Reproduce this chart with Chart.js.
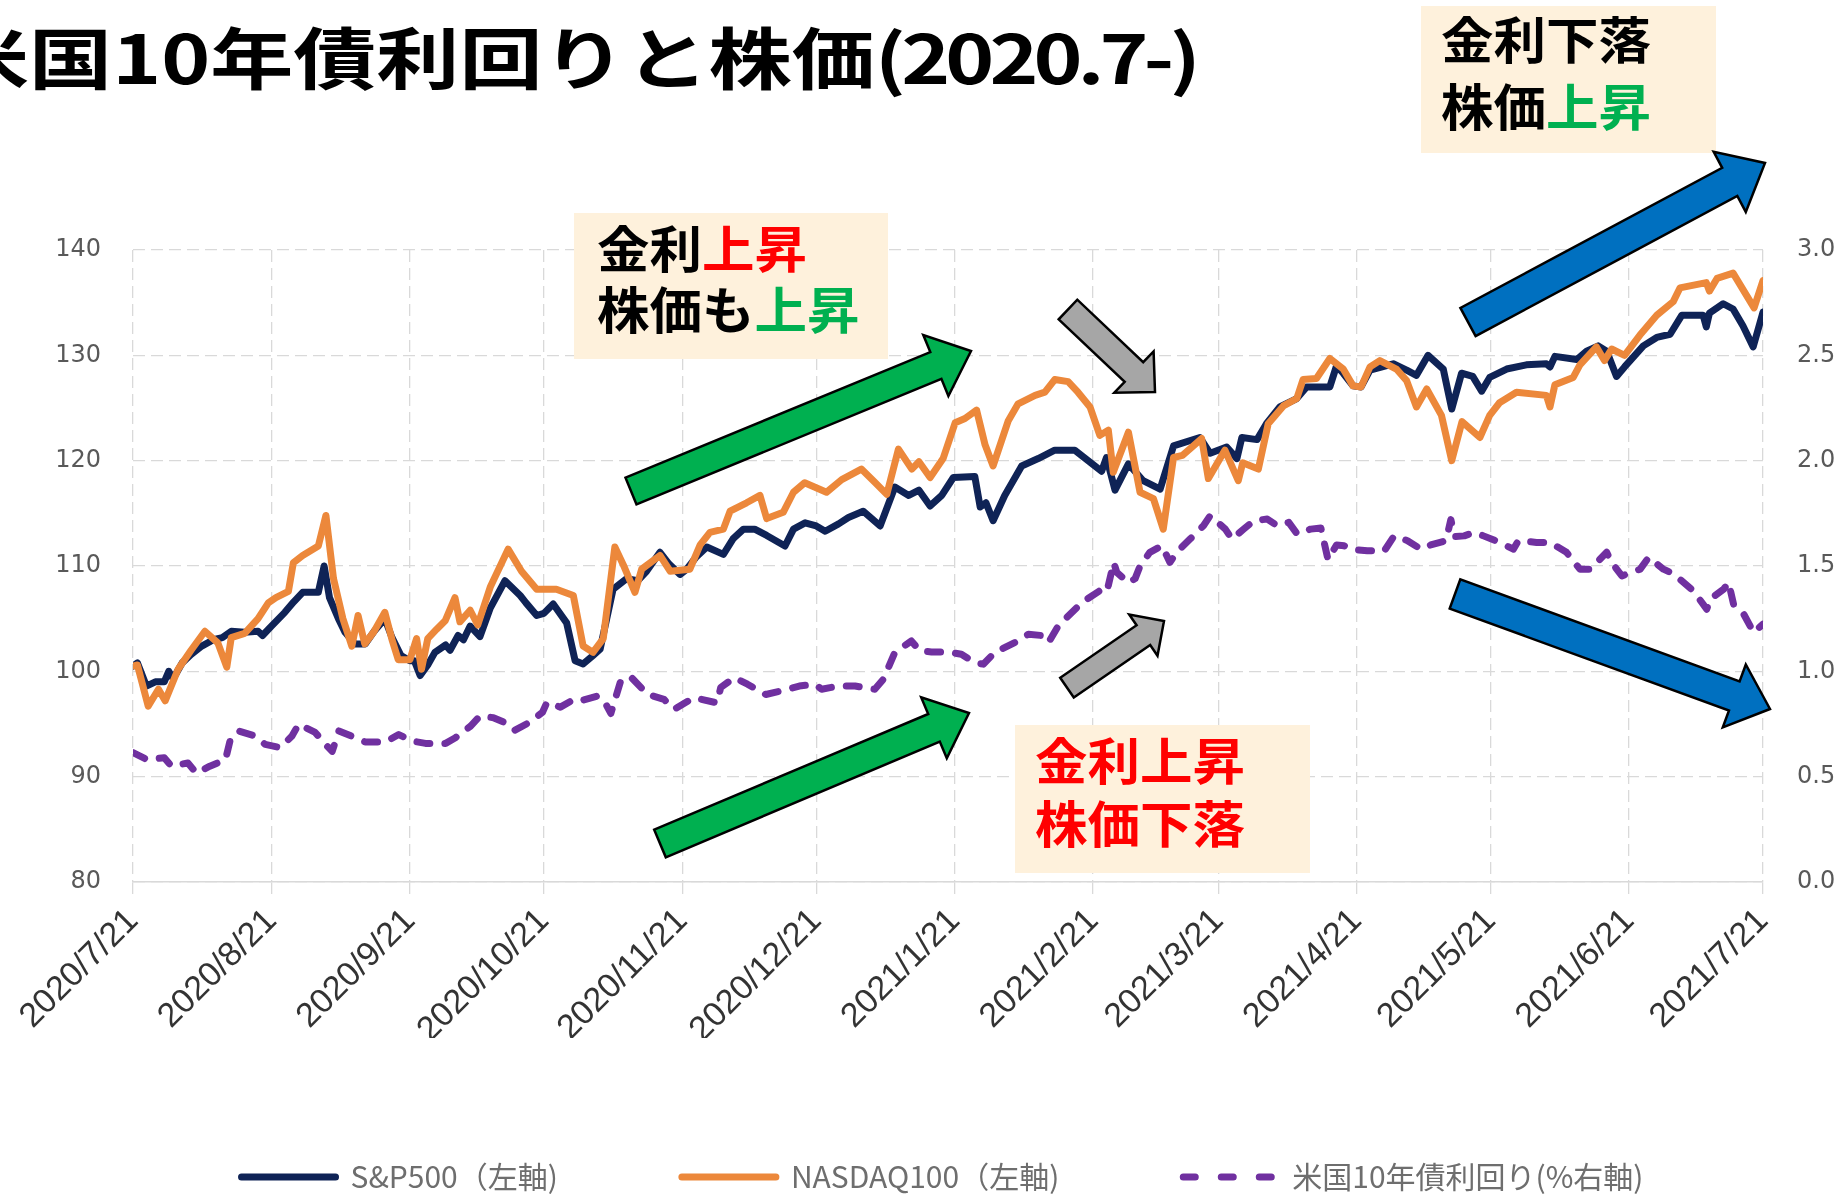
<!DOCTYPE html>
<html lang="ja">
<head>
<meta charset="utf-8">
<title>米国10年債利回りと株価(2020.7-)</title>
<script src="https://cdn.jsdelivr.net/npm/chart.js@4.4.1/dist/chart.umd.min.js"></script>
<style>
  html, body { margin:0; padding:0; background:#ffffff; }
  #stage { position:relative; width:1845px; height:1204px; overflow:hidden; background:#ffffff; }
  #c { position:absolute; left:0; top:0; }
  #title { position:absolute; left:-54px; top:21px; font:700 67px/67px 'Noto Sans CJK JP', sans-serif; color:#000;
           white-space:nowrap; transform:scaleX(1.24); transform-origin:0 0; }
  #title .lat { letter-spacing:-4px; }
  .note { position:absolute; background:#FEF1DC; }
  .note .ln { position:absolute; font:700 50px/50px 'Noto Sans CJK JP', sans-serif; white-space:nowrap;
              color:#000; transform:scaleX(1.05); transform-origin:0 0; }
  .note .r { color:#FF0000; } .note .g { color:#00B050; }
  #arrows { position:absolute; left:0; top:0; }
</style>
</head>
<body>
<div id="stage">
  <canvas id="c" width="1845" height="1204"></canvas>
  <div id="title">米国10年債利回りと株価<span class="lat">(2020.7-)</span></div>
  <div class="note" style="left:1421px;top:6px;width:295px;height:147px;">
    <div class="ln" style="left:20px;top:6px;">金利下落</div>
    <div class="ln" style="left:20px;top:73px;">株価<span class="g">上昇</span></div>
  </div>
  <div class="note" style="left:574px;top:213px;width:314px;height:146px;">
    <div class="ln" style="left:23px;top:8px;">金利<span class="r">上昇</span></div>
    <div class="ln" style="left:23px;top:69px;">株価も<span class="g">上昇</span></div>
  </div>
  <div class="note" style="left:1015px;top:725px;width:295px;height:148px;">
    <div class="ln r" style="left:20px;top:8px;">金利上昇</div>
    <div class="ln r" style="left:20px;top:71px;">株価下落</div>
  </div>
  <svg id="arrows" width="1845" height="1204" xmlns="http://www.w3.org/2000/svg"></svg>
</div>
<script>
// ---------- data (x = calendar days since 2020/7/21) ----------
const tickDays   = [0, 31, 62, 92, 123, 153, 184, 215, 243, 274, 304, 335, 365];
const tickLabels = ['2020/7/21','2020/8/21','2020/9/21','2020/10/21','2020/11/21','2020/12/21',
                    '2021/1/21','2021/2/21','2021/3/21','2021/4/21','2021/5/21','2021/6/21','2021/7/21'];

const seriesNames = ['S&P500（左軸)', 'NASDAQ100（左軸)', '米国10年債利回り(%右軸)'];

const spDays = [
  0,1,3,5,7,8,9,11,13,15.4,
  18,20,22,25,28,29,31,34,36,38,
  41.5,42.8,44,46,47.5,49.7,52,54,56.4,58,
  60,62,63,64.3,66,67.6,70,71,72.8,74,
  75.5,77.7,80,83.3,86.7,88,90.4,92,94.1,97.1,
  99,100.8,103,104.6,107.5,110.5,113,115,118,120,
  122.5,124,126,128.5,132.2,134.4,136.7,139.2,141.9,146,
  147.9,150.5,153,155,158,160.2,163.5,167.3,170.6,173.7,
  176,178.5,181.1,183.7,188.5,189.7,191,192.6,195.2,199,
  202.7,206.4,210.9,213.9,216.9,218,219.9,222.9,226.2,230,
  233,238.9,241.2,244.9,247.2,248.3,251.7,253.8,256.8,260.6,
  262.8,268,269.5,271,273.2,275,277,282.2,285.2,287.4,
  290,293.4,295.3,297.5,300,302,303.8,307.6,312,316.5,
  317.3,318.4,323.3,325.5,328.1,330,332.2,334,338.2,341.2,
  344.2,346.8,351.6,352.3,353,356.1,358.3,360.5,362.8,365
];
const spValues = [
  100.5,100.8,98.6,99.0,99.0,100.0,99.3,100.8,101.6,102.4,
  103.0,103.2,103.8,103.7,103.8,103.4,104.3,105.6,106.6,107.5,
  107.5,110.0,107.0,105.0,103.7,102.6,102.6,103.8,105.0,103.2,
  101.5,101.0,101.0,99.6,100.6,101.8,102.5,102.0,103.4,103.0,
  104.3,103.3,106.0,108.6,107.2,106.5,105.3,105.5,106.4,104.6,
  101.0,100.7,101.5,102.1,107.8,108.8,108.6,109.5,111.3,110.2,
  109.2,109.7,110.8,111.8,111.1,112.6,113.5,113.5,112.9,111.9,
  113.5,114.1,113.8,113.3,114.0,114.6,115.2,113.8,117.5,116.7,
  117.2,115.7,116.7,118.4,118.5,115.6,116.0,114.3,116.7,119.5,
  120.2,121.0,121.0,120.0,119.0,120.3,117.2,119.7,118.1,117.3,
  121.4,122.2,120.7,121.3,120.2,122.2,122.0,123.5,125.1,125.9,
  127.0,127.0,129.0,128.3,127.1,127.0,128.6,129.2,128.6,128.1,
  130.0,128.7,124.9,128.3,128.0,126.6,127.9,128.7,129.1,129.2,
  128.9,129.9,129.6,130.4,130.9,130.4,128.0,128.9,130.9,131.7,
  132.0,133.8,133.8,132.7,134.0,134.9,134.4,132.8,130.8,134.1
];

const ndxDays = [
  0,1,3.4,5.7,7.2,10.1,13,16.1,19,21,
  22,25,28,30.3,32,34.8,35.9,38,41.5,43.2,
  44.9,47,49,50.4,51.9,54,56.4,58,59.4,62,
  63.5,64.6,66,68,69.9,72.1,73.2,75.5,77.2,80,
  84,87,90.4,94.8,98.6,100.8,103,105.3,107.9,109.8,
  112.4,113.9,118,120.3,124.7,127,129.2,132.2,133.7,137.4,
  140.4,141.9,145.6,147.9,150.4,155.3,158.7,163.1,166,168.8,
  171.4,174.4,176,178.5,181.4,184.1,186.3,188.9,190.8,192.6,
  196,198.2,202,204.2,206.4,209.4,211.6,214.3,216.5,218.4,
  219.5,222.9,225.5,228.5,230.7,233,235,239.3,240.8,244.5,
  247.5,248.5,252,254.2,257.6,260.6,262,265,268,271,
  273.2,275,277,279.2,282.9,285.2,287.4,289.7,293,295.3,
  297.6,301.6,303.8,306,309.8,316.5,317.3,318.4,322.5,324,
  327.7,329.5,331.1,334,337.4,341.2,344.9,346.4,352.3,353,
  354.7,358.3,363,365
];
const ndxValues = [
  100.5,100.6,96.7,98.3,97.2,100.2,102.0,103.8,102.7,100.4,
  103.2,103.6,105.0,106.5,107.0,107.6,110.3,111.0,111.9,114.8,
  108.8,105.0,102.4,105.3,102.6,103.8,105.6,103.0,101.1,101.1,
  103.1,100.2,103.1,104.0,104.8,107.0,104.7,105.8,104.4,108.0,
  111.6,109.5,107.8,107.8,107.2,102.4,101.8,103.1,111.8,110.1,
  107.5,109.7,111.0,109.5,109.7,112.0,113.2,113.5,115.2,116.0,
  116.7,114.5,115.1,117.0,117.9,117.0,118.2,119.2,118.0,116.8,
  121.1,119.2,119.9,118.4,120.2,123.6,124.0,124.8,121.5,119.5,
  123.8,125.4,126.2,126.5,127.7,127.5,126.5,125.1,122.4,122.9,
  118.9,122.7,117.0,116.4,113.5,120.3,120.5,122.1,118.3,121.0,
  118.1,119.8,119.2,123.5,125.2,125.9,127.7,127.8,129.7,128.7,
  127.1,127.0,128.9,129.5,128.7,127.6,125.1,126.8,124.3,120.0,
  123.7,122.2,124.3,125.5,126.5,126.2,125.1,127.2,127.9,129.1,
  130.8,129.5,130.6,130.0,131.9,133.8,135.1,136.4,136.9,136.1,
  137.3,137.8,134.5,137.1
];

const yieldDays = [
  0,3.2,7,8.6,12.3,14.2,17.2,20.7,21.7,23.6,
  27.4,29.6,33,35.6,37.1,40.8,43.1,44.6,46.1,49.8,
  52.1,56.5,59.5,62.5,65.5,70,72.2,75.6,77.7,80.7,
  84,85.5,89,91.7,92.7,95.7,98.7,100.2,104,105.5,
  107,109.2,111.4,115.2,118.9,121.2,125.6,130.8,131.6,134.6,
  137.6,141.7,145.1,149.2,152.7,154.2,157.9,161.7,166.1,168,
  170.6,174.3,176.2,178.8,182.5,185.5,188.5,190.4,193,197.5,
  200.5,203.5,205,207.2,212.5,217,218.1,219.6,220.3,222.9,
  224.4,225.5,227.7,230.4,232.2,233.7,236.7,239.7,241.2,244.6,
  246.1,248.7,251,254,256.2,258.8,260.7,263.7,266,267.6,
  269.5,271.2,272.7,276.4,280.2,282.4,285.4,288.4,290.6,294,
  295.1,296,298.1,300.4,302.4,306.1,309.1,310.2,314.3,317.3,
  321,324,326.3,330,331.1,333.4,337.5,339.4,342.7,345,
  349.4,352.4,353.2,356.2,357.3,358.4,360.7,362.9,365
];
const yieldValues = [
  0.614,0.58,0.59,0.55,0.565,0.517,0.55,0.58,0.668,0.717,
  0.693,0.653,0.638,0.693,0.749,0.71,0.653,0.62,0.717,0.685,
  0.664,0.664,0.70,0.669,0.658,0.658,0.685,0.74,0.788,0.78,
  0.75,0.72,0.76,0.806,0.853,0.83,0.867,0.86,0.883,0.86,
  0.80,0.954,0.975,0.891,0.867,0.82,0.875,0.85,0.923,0.97,
  0.939,0.89,0.907,0.93,0.939,0.915,0.93,0.93,0.915,0.962,
  1.09,1.144,1.097,1.092,1.092,1.081,1.042,1.034,1.09,1.137,
  1.176,1.17,1.137,1.216,1.327,1.39,1.38,1.517,1.47,1.42,
  1.44,1.50,1.565,1.596,1.517,1.565,1.628,1.691,1.739,1.675,
  1.628,1.675,1.715,1.723,1.691,1.707,1.652,1.675,1.68,1.53,
  1.60,1.596,1.58,1.572,1.572,1.643,1.62,1.58,1.60,1.62,
  1.72,1.64,1.643,1.66,1.643,1.612,1.58,1.62,1.612,1.612,
  1.565,1.485,1.485,1.565,1.517,1.453,1.485,1.541,1.485,1.462,
  1.382,1.295,1.343,1.39,1.422,1.319,1.271,1.184,1.224
];

// ---------- helpers ----------
const toPts = (xs, ys) => xs.map((x, i) => ({ x: x, y: ys[i] }));
const GRID = '#D9D9D9';
const LEGEND_DASH = [12, 26];

// keep the dataset's own line width / cap, and a dotted sample for the dashed series
const legendLabels = (ch) => {
  const items = Chart.defaults.plugins.legend.labels.generateLabels(ch);
  return items.map(item => {
    const ds = ch.data.datasets[item.datasetIndex];
    return Object.assign({}, item, {
      lineWidth: ds.borderWidth,
      lineCap: 'round',
      lineDash: ds.borderDash ? LEGEND_DASH.slice() : [],
      lineDashOffset: 0
    });
  });
};

const chart = new Chart(document.getElementById('c'), {
  type: 'line',
  data: {
    datasets: [
      { label: seriesNames[0], data: toPts(spDays, spValues), yAxisID: 'y',
        borderColor: '#0F2356', backgroundColor: '#0F2356', borderWidth: 7,
        pointRadius: 0, tension: 0, borderJoinStyle: 'round', borderCapStyle: 'round', order: 3 },
      { label: seriesNames[1], data: toPts(ndxDays, ndxValues), yAxisID: 'y',
        borderColor: '#EC883B', backgroundColor: '#EC883B', borderWidth: 7,
        pointRadius: 0, tension: 0, borderJoinStyle: 'round', borderCapStyle: 'round', order: 2 },
      { label: seriesNames[2], data: toPts(yieldDays, yieldValues), yAxisID: 'y1',
        borderColor: '#7030A0', backgroundColor: '#7030A0', borderWidth: 7,
        borderDash: [13, 15], pointRadius: 0, tension: 0, borderJoinStyle: 'round',
        borderCapStyle: 'round', order: 1 }
    ]
  },
  options: {
    responsive: false,
    animation: false,
    devicePixelRatio: 1,
    layout: { padding: { top: 250, left: 40, right: 0, bottom: 2 } },
    plugins: {
      title: { display: false },
      tooltip: { enabled: false },
      legend: {
        position: 'bottom',
        labels: {
          usePointStyle: true, pointStyle: 'line', pointStyleWidth: 94,
          padding: 124, color: '#6E6E6E',
          font: { family: "'Noto Sans CJK JP', sans-serif", size: 30 },
          sort: (a, b) => a.datasetIndex - b.datasetIndex,
          generateLabels: legendLabels
        }
      }
    },
    scales: {
      x: {
        type: 'linear', min: 0, max: 365,
        afterBuildTicks: (s) => { s.ticks = tickDays.map(v => ({ value: v })); },
        afterFit: (s) => { s.height = 156; },
        ticks: {
          autoSkip: false, minRotation: 45, maxRotation: 45, padding: 7,
          color: '#333333', font: { family: "'Liberation Sans', sans-serif", size: 34 },
          callback: (v) => tickLabels[tickDays.indexOf(v)]
        },
        grid: { color: GRID, lineWidth: 1.3, tickLength: 12, tickColor: GRID, tickBorderDash: [12, 6] },
        border: { display: true, color: GRID, width: 1.6, dash: [12, 6] }
      },
      y: {
        type: 'linear', position: 'left', min: 80, max: 140,
        afterFit: (s) => { s.width = 93; },
        ticks: { stepSize: 10, padding: 32, color: '#595959',
                 font: { family: "'DejaVu Sans', sans-serif", size: 24 } },
        grid: { color: GRID, lineWidth: 1.3, drawTicks: false },
        border: { display: false, dash: [12, 6] }
      },
      y1: {
        type: 'linear', position: 'right', min: 0, max: 3,
        afterFit: (s) => { s.width = 82; },
        ticks: { stepSize: 0.5, padding: 34, color: '#595959',
                 font: { family: "'DejaVu Sans', sans-serif", size: 24 },
                 callback: (v) => v.toFixed(1) },
        grid: { display: false, drawTicks: false },
        border: { display: false }
      }
    }
  }
});

// ---------- decorative block arrows (annotations, not data) ----------
const arrows = [
  { tail: [631, 491],  tip: [971, 351],  sw: 29, hw: 66, hl: 38, fill: '#00B050' },
  { tail: [660, 843.5],tip: [969, 713],  sw: 30, hw: 66, hl: 38, fill: '#00B050' },
  { tail: [1068, 309.5],tip:[1155, 392], sw: 27, hw: 57, hl: 29, fill: '#A6A6A6' },
  { tail: [1067, 687.6],tip:[1164, 621], sw: 24, hw: 50, hl: 25, fill: '#A6A6A6' },
  { tail: [1468, 322], tip: [1765, 163], sw: 32, hw: 68, hl: 40, fill: '#0070C0' },
  { tail: [1455, 594], tip: [1770, 709], sw: 31, hw: 67, hl: 38, fill: '#0070C0' }
];
const svg = document.getElementById('arrows');
arrows.forEach(a => {
  const dx = a.tip[0] - a.tail[0], dy = a.tip[1] - a.tail[1];
  const L = Math.hypot(dx, dy), ux = dx / L, uy = dy / L, nx = -uy, ny = ux;
  const bx = a.tip[0] - ux * a.hl, by = a.tip[1] - uy * a.hl;
  const p = [
    [a.tail[0] + nx * a.sw / 2, a.tail[1] + ny * a.sw / 2],
    [bx + nx * a.sw / 2, by + ny * a.sw / 2],
    [bx + nx * a.hw / 2, by + ny * a.hw / 2],
    [a.tip[0], a.tip[1]],
    [bx - nx * a.hw / 2, by - ny * a.hw / 2],
    [bx - nx * a.sw / 2, by - ny * a.sw / 2],
    [a.tail[0] - nx * a.sw / 2, a.tail[1] - ny * a.sw / 2]
  ];
  const poly = document.createElementNS('http://www.w3.org/2000/svg', 'polygon');
  poly.setAttribute('points', p.map(q => q[0].toFixed(1) + ',' + q[1].toFixed(1)).join(' '));
  poly.setAttribute('fill', a.fill);
  poly.setAttribute('stroke', '#000');
  poly.setAttribute('stroke-width', '2.5');
  poly.setAttribute('stroke-linejoin', 'miter');
  svg.appendChild(poly);
});
</script>
</body>
</html>
